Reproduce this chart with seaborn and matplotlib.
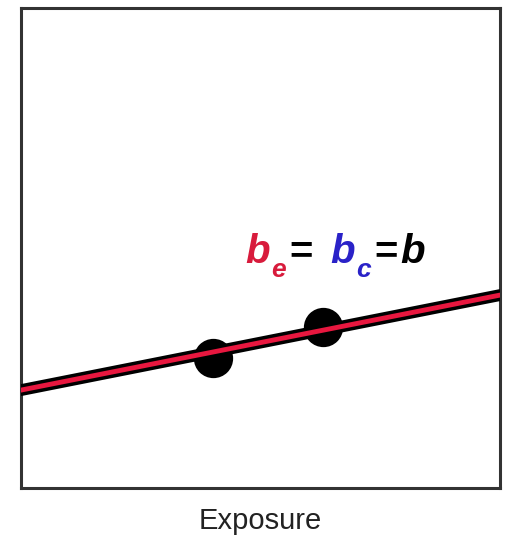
import numpy as np
import matplotlib
matplotlib.use('Agg')
import matplotlib.pyplot as plt
import seaborn as sns
import pandas as pd

# data (axes units 0..1)
line_x = [0.0, 1.0]
line_y = [0.204, 0.402]
dot_x = [0.40, 0.63]
dot_y = [0.27, 0.335]
x_label = 'Exposure'

sns.set_style('white')
plt.rcParams['font.family'] = ['Liberation Sans', 'DejaVu Sans']

lineDf = pd.DataFrame({'x': line_x, 'y': line_y})
dotDf = pd.DataFrame({'x': dot_x, 'y': dot_y})

fig = plt.figure(figsize=(5.08, 5.42), dpi=100)
ax = fig.add_axes([0.0413, 0.0996, 0.943, 0.8855])

sns.scatterplot(dotDf, x='x', y='y', color='black', s=800, linewidth=0, ax=ax, zorder=2)
sns.lineplot(lineDf, x='x', y='y', color='black', linewidth=8.5, ax=ax, zorder=3)
sns.lineplot(lineDf, x='x', y='y', color='#e8173f', linewidth=3.5, ax=ax, zorder=4)

ax.set_xlim(0, 1)
ax.set_ylim(0, 1)
ax.set_xticks([])
ax.set_yticks([])
ax.set_ylabel('')
ax.set_xlabel(x_label, fontsize=21, labelpad=14, color='#222222')
for sp in ax.spines.values():
    sp.set_linewidth(2.2)
    sp.set_color('#333333')

red, blue = '#d81b3c', '#2a22c8'
big = dict(fontsize=29, fontweight='bold', fontstyle='italic', va='baseline', ha='left', transform=ax.transAxes)
small = dict(fontsize=19, fontweight='bold', fontstyle='italic', va='baseline', ha='left', transform=ax.transAxes)
eq = dict(fontsize=29, fontweight='bold', color='black', va='baseline', ha='left', transform=ax.transAxes)
ax.text(0.468, 0.469, 'b', color=red, **big)
ax.text(0.522, 0.440, 'e', color=red, **small)
ax.text(0.560, 0.469, '=', **eq)
ax.text(0.645, 0.469, 'b', color=blue, **big)
ax.text(0.699, 0.440, 'c', color=blue, **small)
ax.text(0.737, 0.469, '=', **eq)
ax.text(0.791, 0.469, 'b', color='black', **big)

fig.savefig('out.png', dpi=100)
